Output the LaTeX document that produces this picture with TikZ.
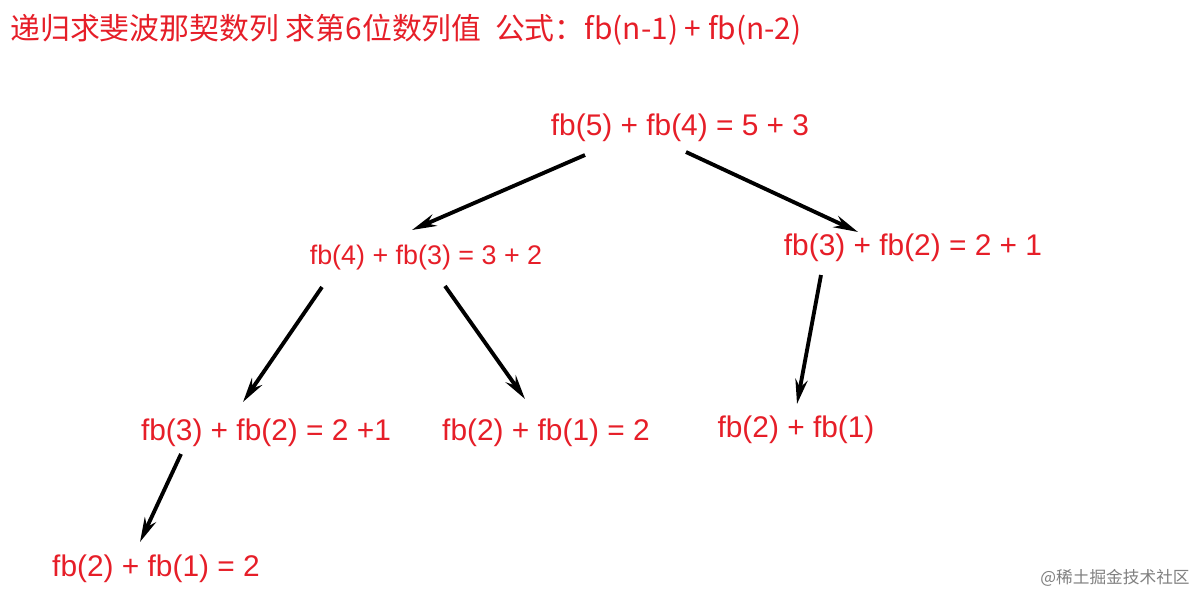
\documentclass[tikz,border=0pt]{standalone}
\usepackage{fontspec}
\setmainfont{Liberation Sans}
\newfontfamily\cjk{Noto Sans CJK SC}
\usetikzlibrary{arrows.meta}
\definecolor{tred}{RGB}{230,30,40}
\tikzset{lbl/.style={text=tred,font=\fontsize{17pt}{19pt}\selectfont,inner sep=0pt},
 sml/.style={text=tred,font=\fontsize{15.3pt}{17pt}\selectfont,inner sep=0pt},
 arr/.style={line width=2.2pt,-{Stealth[length=14pt,width=7pt]}}}
\begin{document}
\begin{tikzpicture}[x=0.02cm,y=-0.02cm]
\useasboundingbox[fill=white] (0,0) rectangle (1200,596);
\node[text=tred,anchor=west,inner sep=0pt,font=\cjk\fontsize{17pt}{19pt}\selectfont] (t) at (10,30) {递归求斐波那契数列 求第6位数列值~ 公式：fb(n-1) + fb(n-2)};
\node[lbl] (A) at (680,128) {fb(5) + fb(4) = 5 + 3};
\node[sml] (B) at (426,258) {fb(4) + fb(3) = 3 + 2};
\node[lbl] (C) at (913,248) {fb(3) + fb(2) = 2 + 1};
\node[lbl] (D) at (266,433) {fb(3) + fb(2) = 2 +1};
\node[lbl] (E) at (546,433) {fb(2) + fb(1) = 2};
\node[lbl] (F) at (796,430) {fb(2) + fb(1)};
\node[lbl] (G) at (156,569) {fb(2) + fb(1) = 2};
\node[text=gray,font=\cjk\fontsize{9.5pt}{11pt}\selectfont,inner sep=0pt] (w) at (1115,578) {@稀土掘金技术社区};
\coordinate (a1) at (585,155); \coordinate (b1) at (412,230);
\coordinate (a2) at (686,152); \coordinate (c1) at (858,232);
\coordinate (b2) at (322,287); \coordinate (d1) at (243,402);
\coordinate (b3) at (445,286); \coordinate (e1) at (525,399);
\coordinate (c2) at (821,275); \coordinate (f1) at (797,404);
\coordinate (d2) at (181,454); \coordinate (g1) at (140,542);
\draw[arr] (a1) -- (b1);
\draw[arr] (a2) -- (c1);
\draw[arr] (b2) -- (d1);
\draw[arr] (b3) -- (e1);
\draw[arr] (c2) -- (f1);
\draw[arr] (d2) -- (g1);
\end{tikzpicture}
\end{document}
